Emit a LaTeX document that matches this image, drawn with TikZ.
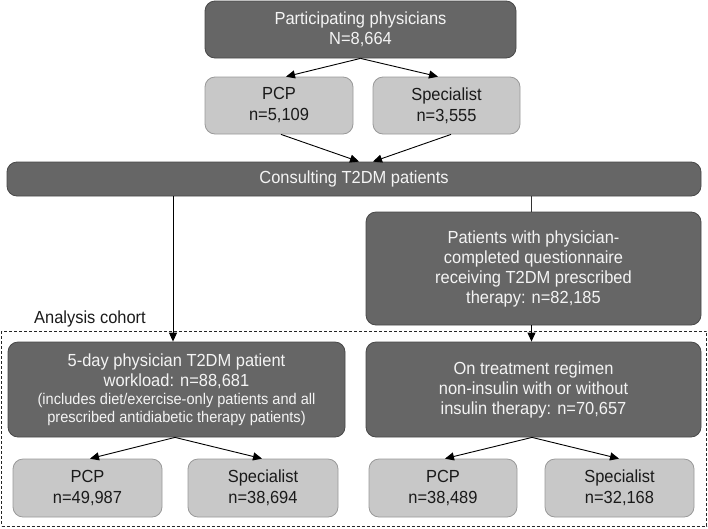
\documentclass[tikz,border=0pt]{standalone}
\usepackage{fontspec}
\setmainfont{Liberation Sans}[FakeStretch=0.94]
\usetikzlibrary{arrows.meta}
\definecolor{darkfill}{HTML}{666666}
\definecolor{darkline}{HTML}{484848}
\definecolor{lightfill}{HTML}{C8C8C8}
\definecolor{lightline}{HTML}{999999}
\definecolor{darktext}{HTML}{F4F4F4}
\definecolor{lighttext}{HTML}{1A1A1A}
\tikzset{
  dbox/.style={draw=darkline, fill=darkfill, rounded corners=10pt, inner sep=0pt, align=center,
    text=darktext, font=\fontsize{17.5}{20}\selectfont, line width=0.8pt},
  lbox/.style={draw=lightline, fill=lightfill, rounded corners=10pt, inner sep=0pt, align=center,
    text=lighttext, font=\fontsize{17.5}{21}\selectfont, line width=0.8pt},
  arr/.style={draw=black, line width=0.9pt, -{Triangle[length=9pt,width=8pt]}},
  plainline/.style={draw=black!80, line width=0.9pt},
  cohortbox/.style={draw=black!85, dashed, dash pattern=on 3pt off 2pt, line width=0.8pt, inner sep=0pt}
}
\begin{document}
\begin{tikzpicture}[x=1pt,y=-1pt]
\useasboundingbox (0,0) rectangle (708,528);
% dashed cohort area
\node[cohortbox, minimum width=705pt, minimum height=195pt] (cohort) at (354,428.5) {};
\node[font=\fontsize{17.5}{20}\selectfont, text=lighttext, inner sep=0pt] (cohortlabel) at (90,319) {Analysis cohort};
% top
\node[dbox, minimum width=311pt, minimum height=57pt] (top) at (360.5,29.5) {Participating physicians\\N=8,664};
\node[lbox, minimum width=148pt, minimum height=57pt] (pcpa) at (279,105.5) {PCP\\n=5,109};
\node[lbox, minimum width=147pt, minimum height=57pt] (speca) at (446.5,105.5) {Specialist\\n=3,555};
\node[dbox, minimum width=694pt, minimum height=34pt] (cons) at (354,179) {Consulting T2DM patients};
% middle
\node[dbox, minimum width=335pt, minimum height=113pt] (quest) at (533.5,268.5)
  {Patients with physician-\\completed questionnaire\\receiving T2DM prescribed\\therapy: n=82,185};
\node[dbox, minimum width=337pt, minimum height=95pt] (work) at (176.5,389.5)
  {5-day physician T2DM patient\\workload: n=88,681\\[-2pt]{\fontsize{15.5}{18}\selectfont (includes diet/exercise-only patients and all}\\[-2pt]{\fontsize{15.5}{18}\selectfont prescribed antidiabetic therapy patients)}};
\node[dbox, minimum width=335pt, minimum height=95pt] (regimen) at (533.5,389.5)
  {On treatment regimen\\non-insulin with or without\\insulin therapy: n=70,657};
% bottom
\node[lbox, minimum width=149pt, minimum height=58pt] (pcpb) at (87.5,488) {PCP\\n=49,987};
\node[lbox, minimum width=150pt, minimum height=58pt] (specb) at (263,488) {Specialist\\n=38,694};
\node[lbox, minimum width=148pt, minimum height=58pt] (pcpc) at (443,488) {PCP\\n=38,489};
\node[lbox, minimum width=149pt, minimum height=58pt] (specc) at (619.5,488) {Specialist\\n=32,168};
% connectors
\draw[arr] (top.south) -- ([xshift=7pt]pcpa.north);
\draw[arr] (top.south) -- ([xshift=-8.5pt]speca.north);
\draw[arr] ([xshift=2pt]pcpa.south) -- ([xshift=5pt]cons.north);
\draw[arr] ([xshift=4.5pt]speca.south) -- ([xshift=19pt]cons.north);
\draw[arr] ([xshift=-3.5pt]work.north |- cons.south) -- ([xshift=-3.5pt]work.north);
\draw[plainline] ([xshift=-2.5pt]quest.north |- cons.south) -- ([xshift=-2.5pt]quest.north);
\draw[arr] ([xshift=-2pt]quest.south) -- ([xshift=-2pt]regimen.north);
\draw[arr] ([xshift=-1.5pt]work.south) -- ([xshift=2.5pt]pcpb.north);
\draw[arr] ([xshift=-1.5pt]work.south) -- ([xshift=-1pt]specb.north);
\draw[arr] ([xshift=-1.5pt]regimen.south) -- ([xshift=2pt]pcpc.north);
\draw[arr] ([xshift=-1.5pt]regimen.south) -- ([xshift=-0.5pt]specc.north);
\end{tikzpicture}
\end{document}
